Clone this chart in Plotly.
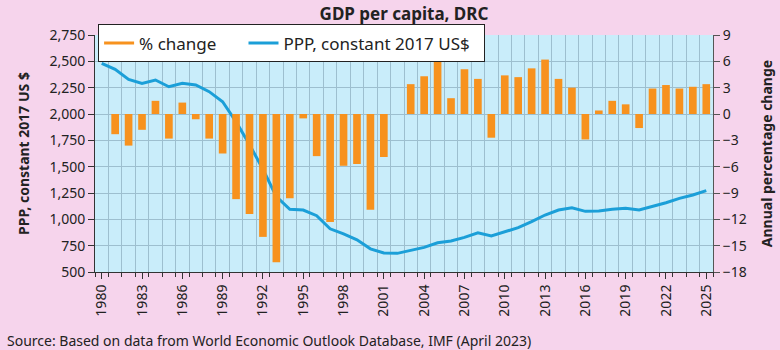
import plotly.graph_objects as go

years = list(range(1980, 2026))
ppp = [2481, 2424, 2329, 2290, 2323, 2259, 2291, 2275, 2212, 2117,
       1925, 1710, 1475, 1215, 1095, 1088, 1035, 910, 861, 806,
       720, 680, 677, 702, 734, 778, 794, 829, 873, 842,
       883, 921, 978, 1041, 1088, 1110, 1076, 1079, 1095, 1105,
       1088, 1120, 1158, 1199, 1231, 1272]
pct = [None, -2.3, -3.6, -1.8, 1.5, -2.8, 1.3, -0.6, -2.8, -4.5,
       -9.7, -11.4, -14.0, -16.9, -9.6, -0.5, -4.8, -12.3, -5.9, -5.7,
       -10.9, -4.9, 0.0, 3.4, 4.3, 6.3, 1.8, 5.1, 4.0, -2.7,
       4.4, 4.2, 5.2, 6.2, 4.0, 3.0, -2.9, 0.4, 1.5, 1.1,
       -1.6, 2.9, 3.3, 2.9, 3.1, 3.4]
tick_years = list(range(1980, 2026, 3))

ORANGE = "#f7921e"
BLUE = "#1b9fd8"
FONT = "Noto Sans"
NB = "\u00a0"

fig = go.Figure()
fig.add_trace(go.Bar(x=years, y=pct, yaxis="y2", marker_color=ORANGE,
                     marker_line_width=0, showlegend=False, name="% change"))
fig.add_trace(go.Scatter(x=[None], y=[None], mode="lines", name="% change" + NB * 5,
                         line=dict(color=ORANGE, width=3)))
fig.add_trace(go.Scatter(x=years, y=ppp, mode="lines", name="PPP, constant 2017 US$" + NB * 2,
                         line=dict(color=BLUE, width=3)))

fig.update_layout(
    width=780, height=350,
    margin=dict(l=95, r=67, t=35, b=78, autoexpand=False),
    paper_bgcolor="#f6d4ec",
    plot_bgcolor="#c9edfa",
    font=dict(family=FONT, size=14, color="#222"),
    bargap=0.43,
    title=dict(text="<b>GDP per capita, DRC</b>", x=0.5, xref="paper", xanchor="center",
               y=0.96, yref="container", yanchor="middle", font=dict(size=17, color="#222")),
    showlegend=True,
    legend=dict(orientation="h", x=0.005, xanchor="left", y=1.045, yanchor="top",
                bgcolor="white", bordercolor="#222", borderwidth=1,
                font=dict(size=17, color="#222"), itemwidth=30,
                tracegroupgap=0),
    xaxis=dict(range=[1979.5, 2025.5], tickmode="array", tickvals=tick_years,
               ticktext=[str(y) for y in tick_years], tickangle=-90, automargin=False,
               showgrid=False, zeroline=False, showline=True, linecolor="#333", linewidth=1,
               ticks="outside", ticklen=6, tickcolor="#333",
               minor=dict(tick0=1979.5, dtick=1, showgrid=True, gridcolor="#9dbfcf",
                          gridwidth=1, ticks="outside", ticklen=4, tickcolor="#333"),
               tickfont=dict(size=14)),
    yaxis=dict(range=[500, 2750], dtick=250, tickformat=",", showgrid=True, automargin=False,
               gridcolor="#9dbfcf", gridwidth=1, zeroline=False, showline=True,
               linecolor="#333", linewidth=1, ticks="outside", ticklen=6, tickcolor="#333",
               title=dict(text="<b>PPP, constant 2017 US $</b>", font=dict(size=14), standoff=16),
               tickfont=dict(size=14)),
    yaxis2=dict(range=[-18, 9], dtick=3, overlaying="y", side="right", showgrid=False,
                zeroline=False, showline=True, linecolor="#555", linewidth=1, automargin=False,
                ticks="outside", ticklen=6, tickcolor="#555",
                title=dict(text="<b>Annual percentage change</b>", font=dict(size=14), standoff=16),
                tickfont=dict(size=14)),
    annotations=[dict(text="Source: Based on data from World Economic Outlook Database, IMF (April 2023)",
                      xref="paper", yref="paper", x=-90/618, y=-68/237, xanchor="left",
                      yanchor="middle", showarrow=False, font=dict(size=14, color="#222"))],
)

fig.write_html("out.html")
